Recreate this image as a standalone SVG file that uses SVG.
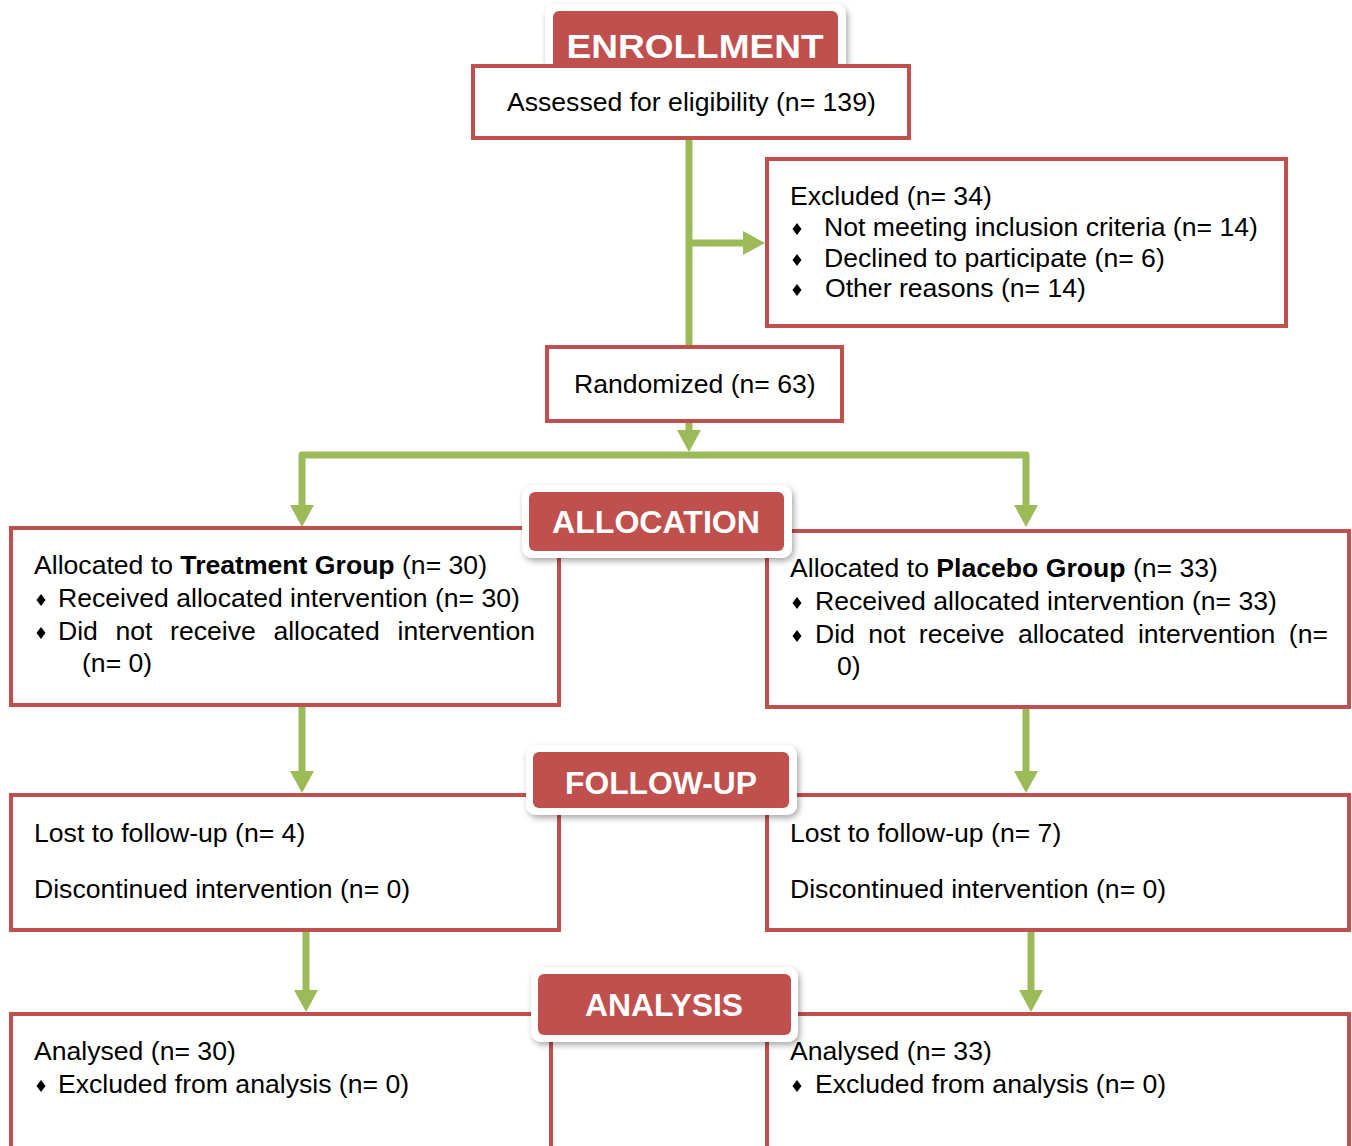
<svg xmlns="http://www.w3.org/2000/svg" xmlns:xlink="http://www.w3.org/1999/xlink" width="1352" height="1146" viewBox="0 0 1352 1146">
<style>
.box{fill:#fff;stroke:#C0504D;stroke-width:4}
.tabw{fill:#fff}
.tabr{fill:#C0504D}
.tt{font-family:"Liberation Sans",Arial,sans-serif;font-weight:bold;fill:#fff;text-anchor:middle}
.t{font-family:"Liberation Sans",Arial,sans-serif;font-size:26.6px;fill:#000}
.b{font-weight:bold}
.con{fill:none;stroke:#9BBB59;stroke-width:7}
</style>
<defs>
<filter id="sh" x="-10%" y="-20%" width="125%" height="150%">
<feDropShadow dx="2" dy="3" stdDeviation="3" flood-color="#000" flood-opacity="0.35"/>
</filter>
<marker id="ah" viewBox="0 0 22 24" refX="0" refY="12" markerWidth="22" markerHeight="24" markerUnits="userSpaceOnUse" orient="auto">
<path d="M0,0 L22,12 L0,24 z" fill="#9BBB59"/>
</marker>
<path id="bul" d="M0,-6 L4.5,0 L0,6 L-4.5,0 z" fill="#000"/>
</defs>

<g id="tab-enrollment">
<rect class="tabw" x="545" y="4" width="301" height="70" rx="10" filter="url(#sh)"/>
<rect class="tabr" x="553" y="11" width="285" height="60" rx="6"/>
<text class="tt" x="695" y="58" font-size="34" textLength="257" lengthAdjust="spacingAndGlyphs">ENROLLMENT</text>
</g>

<g id="connectors">
<path class="con" d="M689,139 V347"/>
<path class="con" d="M689,243 H743" marker-end="url(#ah)"/>
<path class="con" d="M689,422 V430" marker-end="url(#ah)"/>
<path class="con" d="M689,455 H302 V505" stroke-linejoin="round" marker-end="url(#ah)"/>
<path class="con" d="M689,455 H1026 V505" stroke-linejoin="round" marker-end="url(#ah)"/>
<path class="con" d="M302,706 V771" marker-end="url(#ah)"/>
<path class="con" d="M1026,708 V771" marker-end="url(#ah)"/>
<path class="con" d="M306,931 V990" marker-end="url(#ah)"/>
<path class="con" d="M1031,931 V990" marker-end="url(#ah)"/>
</g>

<g id="assessed">
<rect class="box" x="473" y="66" width="436" height="72"/>
<text class="t" x="507" y="111">Assessed for eligibility (n= 139)</text>
</g>

<g id="excluded">
<rect class="box" x="767" y="159" width="519" height="167"/>
<text class="t" x="790" y="205">Excluded (n= 34)</text>
<use xlink:href="#bul" x="797" y="229"/>
<text class="t" x="824" y="236">Not meeting inclusion criteria (n= 14)</text>
<use xlink:href="#bul" x="797" y="260"/>
<text class="t" x="824" y="267">Declined to participate (n= 6)</text>
<use xlink:href="#bul" x="797" y="290"/>
<text class="t" x="825" y="297">Other reasons (n= 14)</text>
</g>

<g id="randomized">
<rect class="box" x="547" y="347" width="295" height="74"/>
<text class="t" x="574" y="393">Randomized (n= 63)</text>
</g>

<g id="treatment">
<rect class="box" x="11" y="528" width="548" height="177"/>
<text class="t" x="34" y="574">Allocated to <tspan class="b">Treatment Group</tspan> (n= 30)</text>
<use xlink:href="#bul" x="41" y="600"/>
<text class="t" x="58" y="607">Received allocated intervention (n= 30)</text>
<use xlink:href="#bul" x="41" y="633"/>
<text class="t" y="640"><tspan x="58">Did</tspan><tspan x="115.5">not</tspan><tspan x="170.1">receive</tspan><tspan x="273.4">allocated</tspan><tspan x="397.5">intervention</tspan></text>
<text class="t" x="82" y="672">(n= 0)</text>
</g>

<g id="placebo">
<rect class="box" x="767" y="531" width="582" height="176"/>
<text class="t" x="790" y="577">Allocated to <tspan class="b">Placebo Group</tspan> (n= 33)</text>
<use xlink:href="#bul" x="797" y="603"/>
<text class="t" x="815" y="610">Received allocated intervention (n= 33)</text>
<use xlink:href="#bul" x="797" y="636"/>
<text class="t" y="643"><tspan x="815">Did</tspan><tspan x="868.3">not</tspan><tspan x="918.8">receive</tspan><tspan x="1017.9">allocated</tspan><tspan x="1137.9">intervention</tspan><tspan x="1288.8">(n=</tspan></text>
<text class="t" x="837" y="675">0)</text>
</g>

<g id="tab-allocation">
<rect class="tabw" x="522" y="485" width="270" height="73" rx="10" filter="url(#sh)"/>
<rect class="tabr" x="529" y="492" width="255" height="59" rx="6"/>
<text class="tt" x="656" y="533" font-size="30.5" textLength="208" lengthAdjust="spacingAndGlyphs">ALLOCATION</text>
</g>

<g id="fu-left">
<rect class="box" x="11" y="795" width="548" height="135"/>
<text class="t" x="34" y="842">Lost to follow-up (n= 4)</text>
<text class="t" x="34" y="898">Discontinued intervention (n= 0)</text>
</g>

<g id="fu-right">
<rect class="box" x="767" y="795" width="582" height="135"/>
<text class="t" x="790" y="842">Lost to follow-up (n= 7)</text>
<text class="t" x="790" y="898">Discontinued intervention (n= 0)</text>
</g>

<g id="tab-followup">
<rect class="tabw" x="526" y="745" width="271" height="70" rx="10" filter="url(#sh)"/>
<rect class="tabr" x="533" y="752" width="256" height="56" rx="6"/>
<text class="tt" x="661" y="794" font-size="30.5" textLength="192" lengthAdjust="spacingAndGlyphs">FOLLOW-UP</text>
</g>

<g id="an-left">
<rect class="box" x="11" y="1014" width="540" height="200"/>
<text class="t" x="34" y="1060">Analysed (n= 30)</text>
<use xlink:href="#bul" x="41" y="1086"/>
<text class="t" x="58" y="1093">Excluded from analysis (n= 0)</text>
</g>

<g id="an-right">
<rect class="box" x="767" y="1014" width="582" height="200"/>
<text class="t" x="790" y="1060">Analysed (n= 33)</text>
<use xlink:href="#bul" x="797" y="1086"/>
<text class="t" x="815" y="1093">Excluded from analysis (n= 0)</text>
</g>

<g id="tab-analysis">
<rect class="tabw" x="531" y="967" width="267" height="75" rx="10" filter="url(#sh)"/>
<rect class="tabr" x="538" y="974" width="253" height="61" rx="6"/>
<text class="tt" x="664" y="1016" font-size="30.5" textLength="158" lengthAdjust="spacingAndGlyphs">ANALYSIS</text>
</g>
</svg>
